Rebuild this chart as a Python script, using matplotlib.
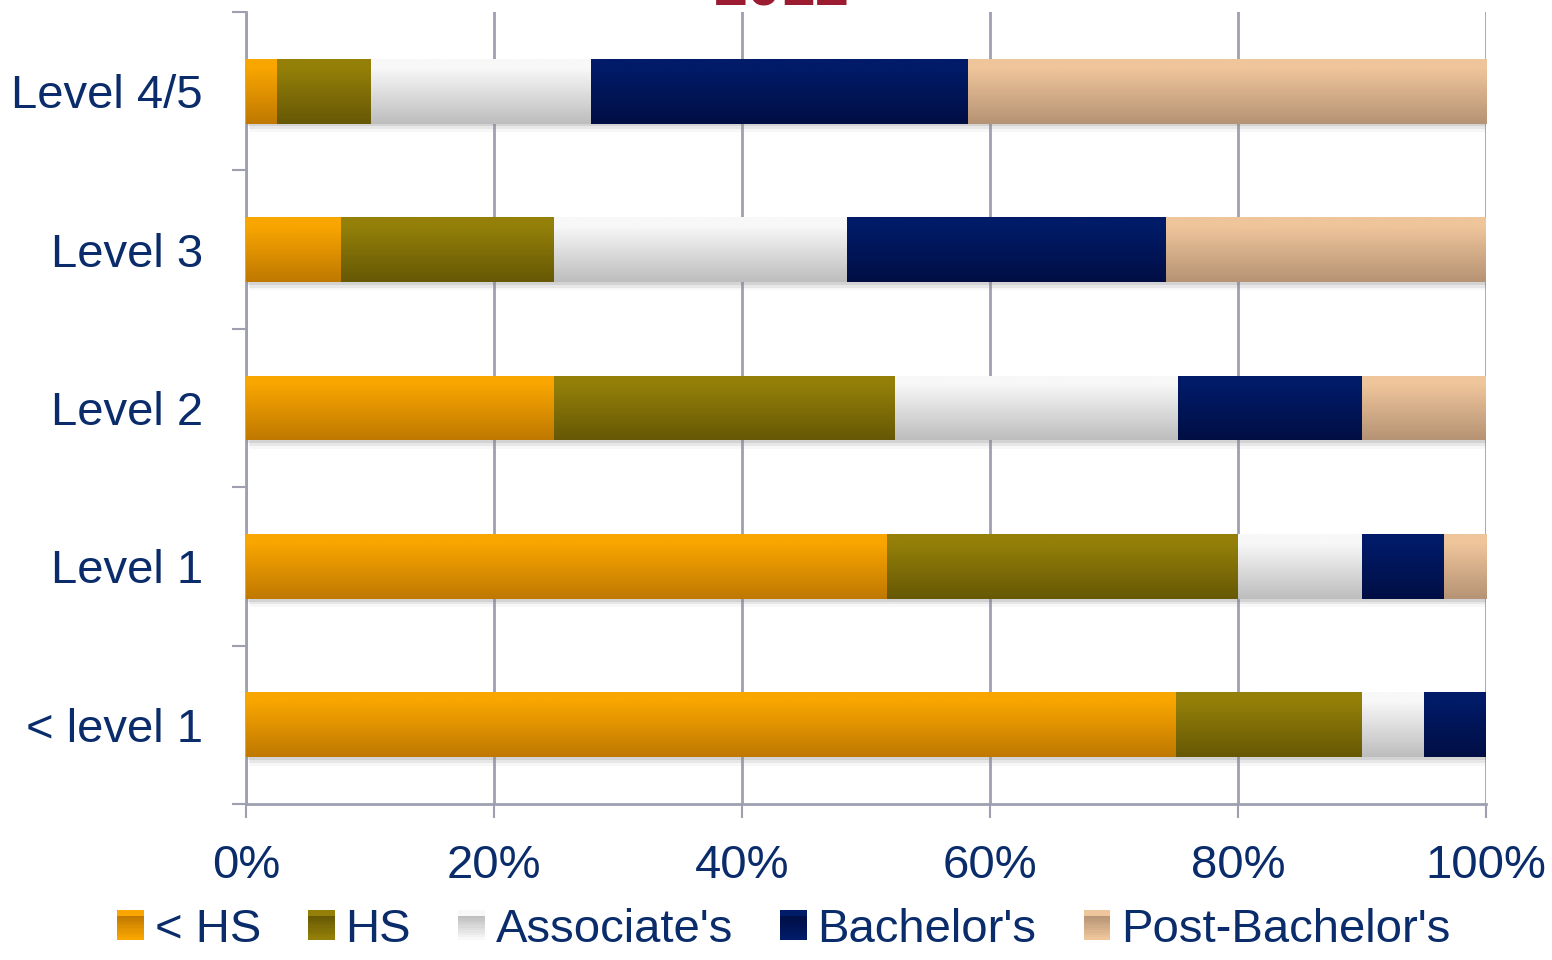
import numpy as np
import matplotlib
matplotlib.use('Agg')
import matplotlib.pyplot as plt
from matplotlib.colors import LinearSegmentedColormap
from matplotlib.patches import Rectangle
from matplotlib.legend_handler import HandlerBase
import matplotlib.patheffects as pe

plt.rcParams['font.family'] = ['Liberation Sans', 'DejaVu Sans']

# data (percent of each literacy level by education)
levels = ['< level 1', 'Level 1', 'Level 2', 'Level 3', 'Level 4/5']
less_hs = [75.0, 51.7, 24.8, 7.7, 2.5]
hs = [15.0, 28.3, 27.5, 17.1, 7.6]
assoc = [5.0, 10.0, 22.9, 23.7, 17.7]
bach = [5.0, 6.6, 14.8, 25.7, 30.4]
post_bach = [0.0, 3.4, 10.0, 25.8, 41.8]
series_names = ['< HS', 'HS', "Associate's", "Bachelor's", "Post-Bachelor's"]
x_ticks = [0, 20, 40, 60, 80, 100]
x_labels = ['0%', '20%', '40%', '60%', '80%', '100%']

# (top colour, bottom colour) for the gradients
grad_colors = [('#F9A600', '#BF7800'),
               ('#948009', '#665805'),
               ('#F8F8F8', '#BDBDBD'),
               ('#001B68', '#000E44'),
               ('#EFC59B', '#B69375')]

text_col = '#0B2C6B'
grid_col = '#9EA0B2'

fig = plt.figure(figsize=(15.52, 9.6), dpi=100)
ax = fig.add_axes([246 / 1552, 1 - 804 / 960, 1240 / 1552, 792 / 960])

ypos = np.arange(len(levels))
grad = np.linspace(0, 1, 200).reshape(-1, 1)
grad = np.clip(grad * 1.15, 0, 1)
left = np.zeros(len(levels))
all_series = [less_hs, hs, assoc, bach, post_bach]
shadow = [pe.SimplePatchShadow(offset=(1, -2), shadow_rgbFace='#777777', alpha=0.18),
          pe.SimplePatchShadow(offset=(2, -4), shadow_rgbFace='#888888', alpha=0.14),
          pe.SimplePatchShadow(offset=(3, -6), shadow_rgbFace='#999999', alpha=0.08),
          pe.Normal()]
for name, vals, (c_top, c_bot) in zip(series_names, all_series, grad_colors):
    vals = np.array(vals)
    bars = ax.barh(ypos, vals, left=left, height=0.41, color=c_bot,
                   linewidth=0, zorder=3)
    cmap = LinearSegmentedColormap.from_list(name, [c_bot, c_top])
    for b in bars:
        if b.get_width() <= 0:
            continue
        b.set_path_effects(shadow)
        x0, y0, w, h = b.get_x(), b.get_y(), b.get_width(), b.get_height()
        im = ax.imshow(grad, extent=[x0, x0 + w, y0, y0 + h], origin='lower',
                       cmap=cmap, aspect='auto', zorder=3.5, interpolation='bilinear')
        im.set_clip_path(b)
    left += vals

ax.set_xlim(0, 100)
ax.set_ylim(-0.5, len(levels) - 0.5)
ax.set_xticks(x_ticks)
ax.set_xticklabels(x_labels)
ax.set_yticks(ypos)
ax.set_yticklabels(levels)
ax.set_yticks(np.arange(-0.5, len(levels), 1.0), minor=True)
ax.tick_params(axis='y', which='major', length=0, pad=31, labelsize=34, labelcolor=text_col)
ax.tick_params(axis='y', which='minor', length=10, width=1.5, color=grid_col, direction='out')
ax.tick_params(axis='x', length=10, width=1.5, color=grid_col, direction='out',
               pad=19, labelsize=34, labelcolor=text_col)
ax.grid(axis='x', color=grid_col, linewidth=2, zorder=0)
ax.set_axisbelow(True)
for s in ['top', 'right']:
    ax.spines[s].set_visible(False)
for s in ['left', 'bottom']:
    ax.spines[s].set_color(grid_col)
    ax.spines[s].set_linewidth(2)

fig.text(0.504, 1 - 6 / 960, '2012', ha='center', va='baseline', fontsize=44,
         weight='bold', color='#9B1B30')


class GradHandler(HandlerBase):
    def __init__(self, c_top, c_bot):
        super().__init__()
        self.cmap = LinearSegmentedColormap.from_list('h', [c_top, c_bot])

    def create_artists(self, legend, orig_handle, xdescent, ydescent, width, height, fontsize, trans):
        arts = []
        n = 12
        for i in range(n):
            r = Rectangle((-xdescent, -ydescent + height * i / n), width, height / n + 0.3,
                          facecolor=self.cmap(min(1, i / (n - 1) * 1.15)), linewidth=0, transform=trans)
            arts.append(r)
        return arts


handles = [Rectangle((0, 0), 1, 1) for _ in series_names]
hmap = {h: GradHandler(*c) for h, c in zip(handles, grad_colors)}
leg = fig.legend(handles, series_names, loc='lower center', bbox_to_anchor=(0.505, -0.036),
                 ncol=5, frameon=False, fontsize=34, handler_map=hmap,
                 handlelength=0.57, handleheight=0.57, handletextpad=0.22, columnspacing=1.0)
for t in leg.get_texts():
    t.set_color(text_col)

fig.savefig('out.png', dpi=100)
